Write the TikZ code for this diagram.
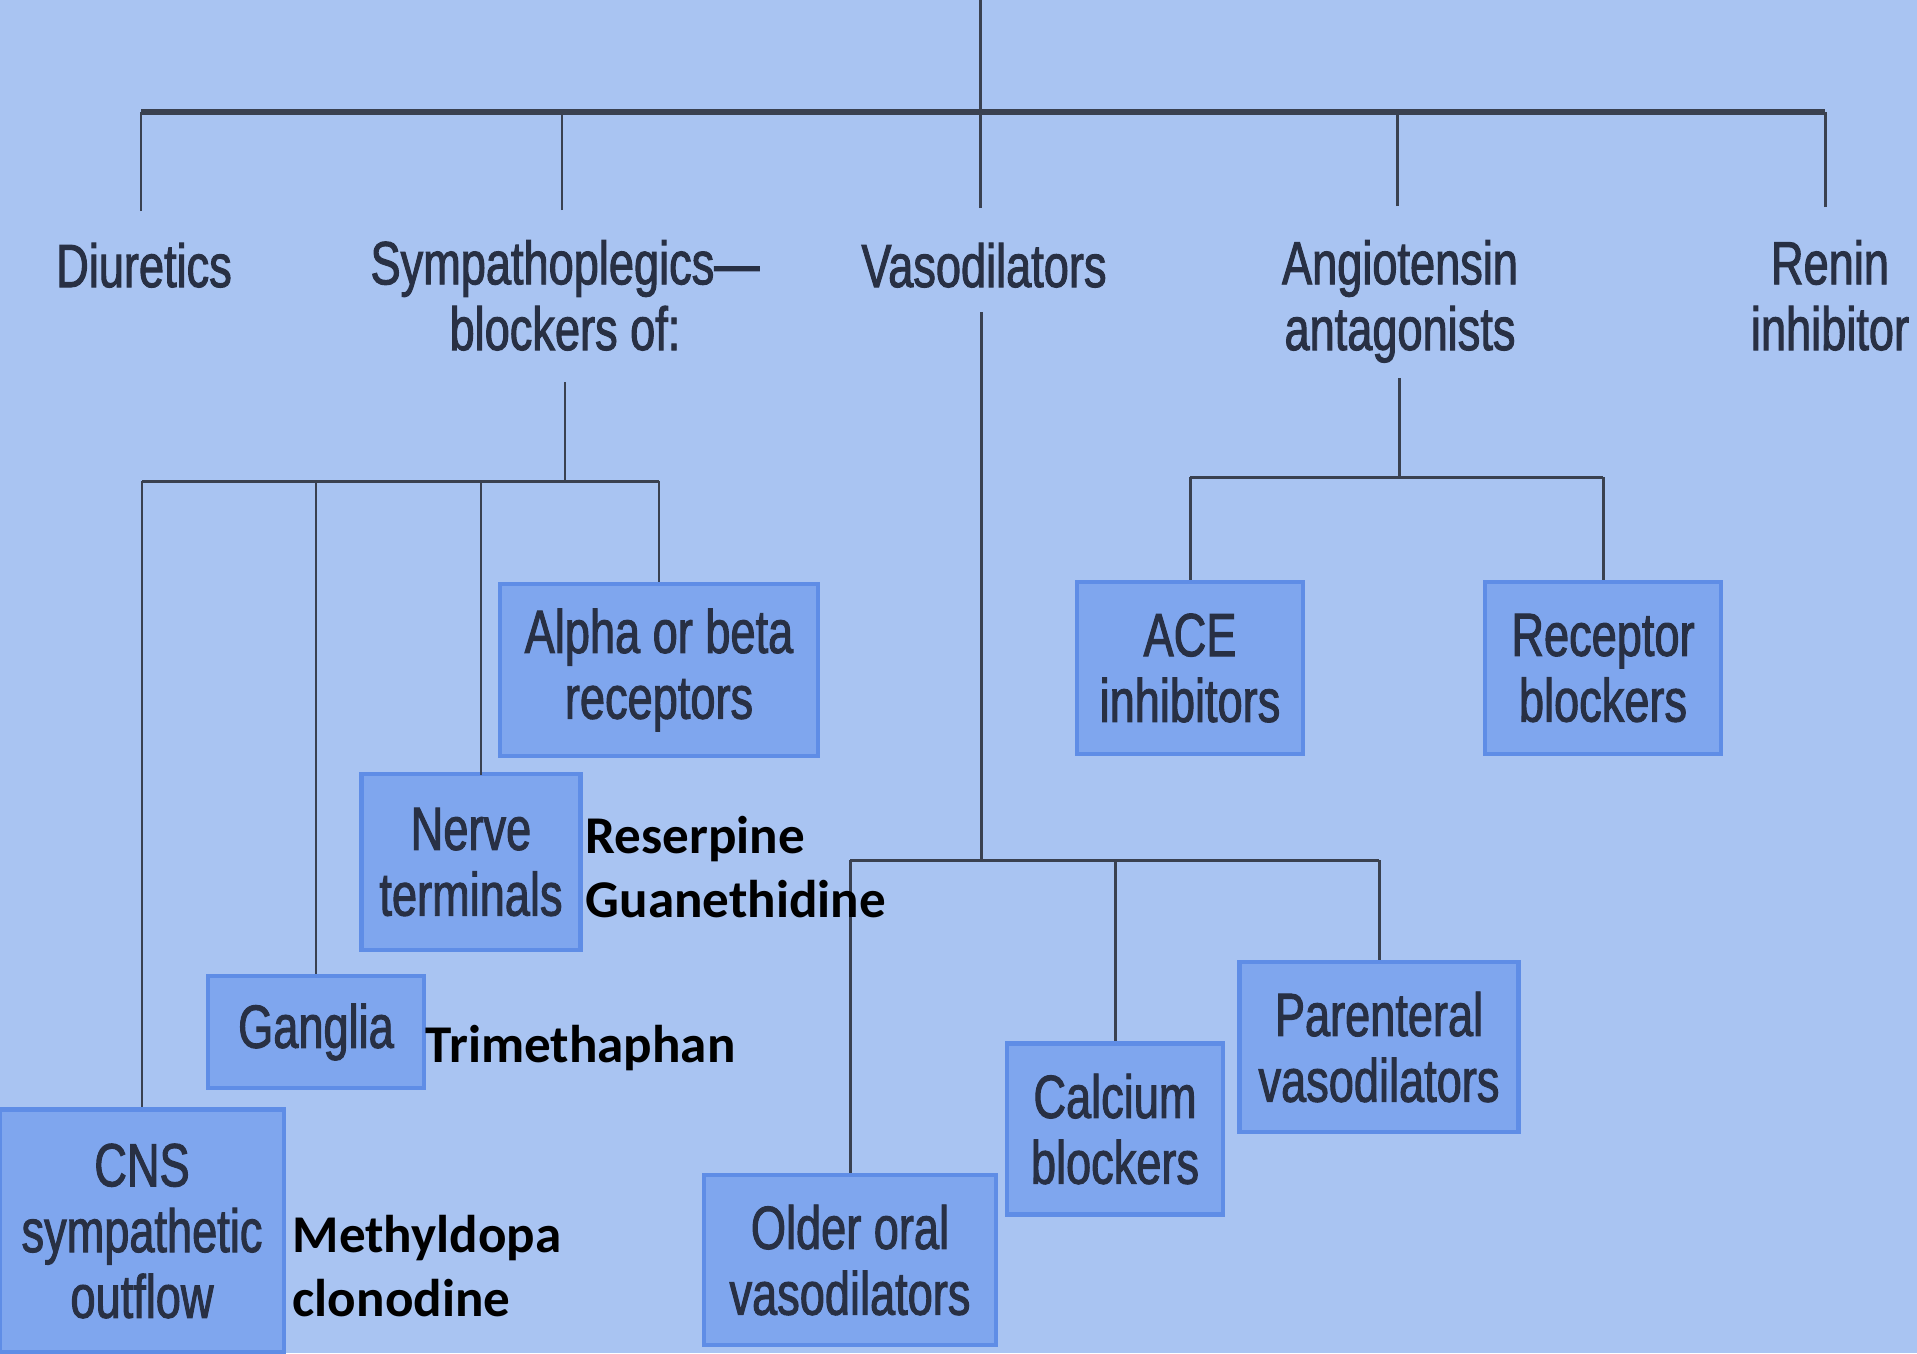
\documentclass[tikz,border=0pt]{standalone}
\usepackage{fontspec}
\newfontfamily\hfont[FakeStretch=0.74,FakeBold=1.6]{Liberation Sans}
\newfontfamily\dfont{Carlito}
\definecolor{bgcol}{HTML}{A9C4F2}
\definecolor{boxfill}{HTML}{7FA6EE}
\definecolor{boxline}{HTML}{5F8DE6}
\definecolor{txtcol}{HTML}{283044}
\definecolor{linecol}{HTML}{3A4150}
\newcommand{\labfont}{\hfont\fontsize{17.35}{18.7}\selectfont}
\newcommand{\drugfont}{\dfont\bfseries\fontsize{15.1}{18.2}\selectfont}
\begin{document}
\begin{tikzpicture}[x=0.01cm,y=-0.01cm,
  conn/.style={draw=linecol,line width=0.85pt},
  mainbar/.style={draw=linecol,line width=1.5pt},
  catlabel/.style={text=txtcol,font=\labfont,align=center,inner sep=0pt,anchor=base},
  drugbox/.style={draw=boxline,line width=1.2pt,fill=boxfill,text=txtcol,font=\labfont,align=center,inner sep=0pt},
  druglabel/.style={text=black,font=\drugfont,align=left,inner sep=0pt,anchor=base west}]
\fill[bgcol] (0,0) rectangle (1917,1353);
\useasboundingbox (0,0) rectangle (1917,1353);

% top level labels (base anchor = baseline of the last line)
\node[catlabel] (diu) at (144,287) {Diuretics};
\node[catlabel] (sym) at (565,350) {Sympathoplegics—\\blockers of:};
\node[catlabel] (vas) at (984,287) {Vasodilators};
\node[catlabel] (ang) at (1400,350) {Angiotensin\\antagonists};
\node[catlabel] (ren) at (1830,350) {Renin\\inhibitor};

% top tree
\coordinate (root) at (980,0);
\coordinate (j) at (980,112);
\coordinate (diuTop) at (141,211);
\coordinate (symTop) at (562,210);
\coordinate (vasTop) at (980,208);
\coordinate (angTop) at (1397,206);
\coordinate (renTop) at (1825,207);
\draw[conn] (root) -- (j);
\draw[mainbar] (diuTop |- j) -- (renTop |- j);
\draw[conn] (diuTop) -- (diuTop |- j);
\draw[conn] (symTop) -- (symTop |- j);
\draw[conn] (vasTop) -- (vasTop |- j);
\draw[conn] (angTop) -- (angTop |- j);
\draw[conn] (renTop) -- (renTop |- j);

% boxes
\node[drugbox,minimum width=3.18cm,minimum height=1.72cm] (alpha) at (659,670) {Alpha or beta\\receptors};
\node[drugbox,minimum width=2.19cm,minimum height=1.76cm] (nerve) at (471,862) {Nerve\\terminals};
\node[drugbox,minimum width=2.16cm,minimum height=1.12cm] (gang) at (316,1032) {Ganglia};
\node[drugbox,minimum width=2.84cm,minimum height=2.43cm] (cns) at (142,1231) {CNS\\sympathetic\\outflow};
\node[drugbox,minimum width=2.26cm,minimum height=1.72cm] (ace) at (1190,668) {ACE\\inhibitors};
\node[drugbox,minimum width=2.36cm,minimum height=1.72cm] (rec) at (1603,668) {Receptor\\blockers};
\node[drugbox,minimum width=2.92cm,minimum height=1.70cm] (older) at (850,1260) {Older oral\\vasodilators};
\node[drugbox,minimum width=2.16cm,minimum height=1.71cm] (calc) at (1115,1129) {Calcium\\blockers};
\node[drugbox,minimum width=2.79cm,minimum height=1.70cm] (par) at (1379,1047) {Parenteral\\vasodilators};

% sympathoplegics subtree
\coordinate (symBot) at (565,382);
\coordinate (j2) at (565,481);
\coordinate (nerveTop) at (481,775);
\draw[conn] (symBot) -- (j2);
\draw[conn] (cns.north |- j2) -- (alpha.north |- j2);
\draw[conn] (cns.north |- j2) -- (cns.north);
\draw[conn] (gang.north |- j2) -- (gang.north);
\draw[conn] (nerveTop |- j2) -- (nerveTop);
\draw[conn] (alpha.north |- j2) -- (alpha.north);

% vasodilators subtree
\coordinate (vasBot) at (981,312);
\coordinate (j3) at (981,860);
\draw[conn] (vasBot) -- (j3);
\draw[conn] (older.north |- j3) -- (par.north |- j3);
\draw[conn] (older.north |- j3) -- (older.north);
\draw[conn] (calc.north |- j3) -- (calc.north);
\draw[conn] (par.north |- j3) -- (par.north);

% angiotensin subtree
\coordinate (angBot) at (1399,378);
\coordinate (j4) at (1399,477);
\draw[conn] (angBot) -- (j4);
\draw[conn] (ace.north |- j4) -- (rec.north |- j4);
\draw[conn] (ace.north |- j4) -- (ace.north);
\draw[conn] (rec.north |- j4) -- (rec.north);

% drug names (base anchor = baseline of the last line)
\node[druglabel] (resg) at (585,917) {Reserpine\\Guanethidine};
\node[druglabel] (trim) at (425,1062) {Trimethaphan};
\node[druglabel] (meth) at (292,1316) {Methyldopa\\clonodine};
\end{tikzpicture}
\end{document}
